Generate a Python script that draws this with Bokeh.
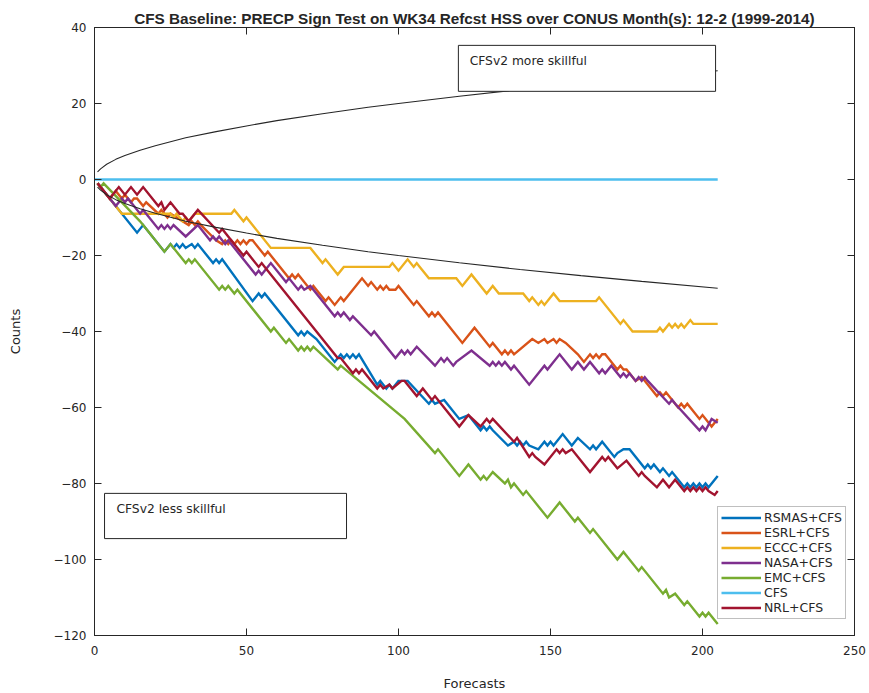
from bokeh.plotting import figure
from bokeh.models import (Range1d, LinearAxis, Legend, LegendItem, BoxAnnotation,
                          Label, FixedTicker, CustomJSTickFormatter)
from bokeh.embed import file_html
from bokeh.resources import INLINE

# ---------------- data ----------------
title_text = "CFS Baseline: PRECP Sign Test on WK34 Refcst HSS over CONUS Month(s): 12-2 (1999-2014)"
x_ticks = [0, 50, 100, 150, 200, 250]
y_ticks = [-120, -100, -80, -60, -40, -20, 0, 20, 40]

rsmas_x = [1, 14, 16, 23, 25, 26, 27, 28, 29, 30, 32, 33, 34, 39, 40, 41, 42, 52, 54, 55, 56, 67, 68, 69, 70, 73, 79,
           81, 82, 83, 84, 85, 86, 87, 93, 94, 95, 96, 97, 98, 99, 100, 103, 110, 111, 112, 115, 120, 123, 127, 128,
           129, 130, 131, 136, 138, 139, 140, 141, 142, 143, 146, 148, 149, 150, 151, 154, 157, 159, 163, 164, 165,
           167, 171, 172, 174, 176, 181, 182, 183, 184, 186, 187, 189, 190, 194, 195, 196, 197, 198, 199, 200, 201,
           202, 205]
rsmas_y = [-1, -14, -12, -19, -17, -18, -17, -18, -17, -18, -17, -18, -17, -22, -21, -22, -21, -32, -30, -31, -30, -41,
           -40, -41, -40, -42, -48, -46, -47, -46, -47, -46, -47, -46, -54, -53, -54, -55, -54, -55, -54, -53, -53,
           -59, -58, -59, -58, -63, -62, -66, -65, -66, -65, -66, -70, -69, -70, -69, -70, -69, -70, -71, -69, -70,
           -69, -70, -67, -70, -68, -71, -70, -71, -69, -73, -72, -71, -71, -76, -75, -76, -75, -77, -76, -78, -77,
           -81, -80, -81, -80, -81, -80, -81, -80, -81, -78]

esrl_x = [1, 5, 7, 9, 10, 12, 13, 14, 16, 17, 21, 22, 24, 25, 27, 31, 32, 33, 34, 35, 40, 42, 43, 44, 45, 46, 47, 48,
          49, 50, 51, 52, 56, 57, 58, 64, 65, 66, 67, 71, 72, 73, 76, 77, 79, 81, 82, 88, 90, 91, 93, 94, 95, 96, 97,
          99, 100, 101, 105, 106, 110, 111, 112, 113, 121, 125, 130, 131, 134, 135, 136, 137, 138, 144, 146, 148,
          149, 151, 152, 153, 155, 159, 161, 163, 164, 165, 166, 167, 168, 172, 173, 174, 175, 178, 180, 185, 186,
          187, 188, 192, 193, 194, 195, 199, 200, 203, 205]
esrl_y = [-1, -5, -3, -5, -4, -6, -5, -5, -7, -6, -9, -8, -10, -9, -10, -12, -11, -12, -11, -12, -16, -17, -16, -17,
          -16, -17, -16, -17, -16, -17, -16, -16, -20, -19, -20, -26, -25, -26, -25, -29, -28, -29, -32, -31, -33,
          -31, -32, -26, -28, -27, -29, -28, -29, -28, -29, -29, -28, -29, -33, -32, -36, -35, -36, -35, -43, -39,
          -44, -43, -46, -45, -46, -45, -46, -42, -43, -42, -43, -42, -43, -42, -43, -46, -48, -46, -47, -46, -47,
          -46, -46, -50, -49, -50, -50, -53, -52, -57, -56, -57, -56, -60, -59, -60, -59, -63, -62, -65, -63]

eccc_x = [1, 8, 9, 25, 26, 27, 29, 30, 31, 33, 34, 45, 46, 49, 50, 58, 71, 75, 76, 80, 82, 94, 97, 98, 100, 103, 105,
          106, 107, 110, 119, 121, 124, 129, 131, 133, 141, 143, 144, 146, 147, 148, 151, 153, 165, 166, 173, 174,
          177, 185, 186, 187, 189, 190, 191, 192, 193, 194, 196, 197, 205]
eccc_y = [-1, -8, -9, -9, -10, -9, -11, -10, -11, -9, -9, -9, -8, -11, -10, -18, -18, -22, -21, -25, -23, -23, -23,
          -22, -24, -21, -23, -22, -23, -26, -26, -28, -25, -30, -28, -30, -30, -32, -31, -33, -32, -33, -30, -32,
          -32, -31, -38, -37, -40, -40, -39, -40, -38, -39, -38, -39, -38, -39, -37, -38, -38]

nasa_x = [1, 7, 9, 10, 11, 15, 16, 21, 22, 23, 24, 25, 26, 30, 34, 38, 39, 40, 41, 43, 44, 48, 53, 54, 55, 58, 63,
          64, 67, 68, 69, 71, 79, 80, 81, 82, 84, 85, 91, 92, 99, 101, 102, 103, 104, 106, 112, 114, 115, 116, 118,
          119, 124, 130, 131, 132, 133, 134, 135, 137, 138, 143, 148, 149, 153, 157, 159, 161, 163, 166, 167, 168,
          170, 173, 174, 175, 176, 178, 179, 180, 181, 182, 189, 190, 191, 199, 200, 201, 203, 205]
nasa_y = [-1, -7, -5, -6, -5, -9, -8, -13, -12, -13, -12, -13, -12, -15, -12, -16, -15, -16, -15, -17, -16, -20, -25,
          -24, -25, -22, -27, -26, -29, -28, -29, -28, -36, -35, -36, -35, -37, -36, -41, -40, -47, -45, -46, -45,
          -46, -44, -49, -47, -48, -47, -49, -48, -45, -49, -48, -49, -48, -49, -48, -50, -49, -54, -49, -50, -46,
          -50, -48, -50, -48, -51, -50, -51, -49, -52, -51, -52, -51, -53, -52, -53, -52, -53, -59, -58, -59, -66,
          -65, -66, -63, -64]

emc_x = [1, 2, 3, 15, 16, 23, 25, 30, 31, 32, 33, 41, 42, 43, 44, 46, 47, 58, 59, 63, 64, 67, 68, 69, 70, 71, 72, 80,
         81, 102, 112, 113, 120, 123, 127, 128, 129, 131, 135, 136, 137, 138, 141, 142, 149, 153, 158, 159, 163,
         164, 172, 174, 179, 180, 187, 188, 189, 191, 194, 195, 199, 200, 201, 202, 205]
emc_y = [-1, -2, -1, -11, -12, -19, -17, -22, -21, -22, -21, -29, -28, -29, -28, -30, -29, -40, -39, -43, -42, -45,
         -44, -45, -44, -45, -44, -50, -49, -63, -72, -71, -78, -75, -79, -78, -79, -77, -80, -79, -81, -80, -83,
         -82, -89, -85, -90, -89, -93, -92, -100, -98, -103, -102, -109, -108, -110, -109, -112, -111, -115, -114,
         -115, -114, -117]

cfs_x = [0, 205]
cfs_y = [0, 0]

nrl_x = [1, 5, 8, 10, 12, 14, 16, 21, 22, 23, 25, 28, 29, 31, 34, 41, 42, 47, 49, 50, 54, 55, 56, 80, 81, 85, 86, 87,
         88, 93, 94, 95, 97, 98, 101, 102, 106, 108, 111, 112, 113, 120, 123, 127, 129, 130, 131, 138, 139, 143, 144,
         145, 148, 152, 153, 154, 155, 157, 163, 167, 168, 169, 172, 175, 179, 180, 181, 185, 187, 189, 191, 194,
         195, 196, 197, 198, 199, 200, 201, 202, 204, 205]
nrl_y = [-1, -5, -2, -4, -2, -4, -2, -7, -6, -8, -6, -9, -9, -11, -8, -14, -13, -18, -20, -19, -23, -22, -23, -47,
         -47, -51, -50, -51, -50, -55, -54, -55, -54, -55, -53, -53, -57, -55, -58, -57, -58, -65, -62, -65, -63,
         -64, -63, -69, -68, -73, -72, -73, -75, -71, -72, -71, -72, -71, -77, -73, -74, -73, -76, -74, -78, -77,
         -78, -81, -79, -81, -79, -82, -81, -82, -81, -82, -81, -82, -81, -82, -83, -82]

bound_x = [1, 2, 4, 7, 10, 15, 20, 30, 40, 50, 60, 75, 90, 100, 120, 140, 160, 180, 205]
bound_upper = [2.0, 2.8, 4.0, 5.3, 6.3, 7.7, 8.9, 11.0, 12.6, 14.1, 15.5, 17.3, 19.0, 20.0, 21.9, 23.7, 25.3, 26.8, 28.6]
bound_lower = [-2.0, -2.8, -4.0, -5.3, -6.3, -7.7, -8.9, -11.0, -12.6, -14.1, -15.5, -17.3, -19.0, -20.0, -21.9,
               -23.7, -25.3, -26.8, -28.6]

series = [
    ("RSMAS+CFS", rsmas_x, rsmas_y, "#0072BD"),
    ("ESRL+CFS", esrl_x, esrl_y, "#D95319"),
    ("ECCC+CFS", eccc_x, eccc_y, "#EDB120"),
    ("NASA+CFS", nasa_x, nasa_y, "#7E2F8E"),
    ("EMC+CFS", emc_x, emc_y, "#77AC30"),
    ("CFS", cfs_x, cfs_y, "#4DBEEE"),
    ("NRL+CFS", nrl_x, nrl_y, "#A2142F"),
]

# ---------------- figure ----------------
FONT = "DejaVu Sans"
INK = "#262626"

p = figure(width=869, height=693, output_backend="svg", toolbar_location=None,
           x_range=Range1d(0, 250), y_range=Range1d(-120, 40),
           min_border_left=94, min_border_right=15, min_border_top=27, min_border_bottom=56,
           x_axis_label="Forecasts", y_axis_label="Counts")
p.title.text = title_text
p.title.align = "center"
p.title.text_font = "Liberation Sans"
p.title.text_font_size = "15.3px"
p.title.text_font_style = "bold"
p.title.text_color = INK
p.title.standoff = 1
p.xgrid.visible = False
p.ygrid.visible = False
p.outline_line_color = INK
p.background_fill_color = "white"


def style_axis(ax, ticks, labels=True):
    ax.ticker = FixedTicker(ticks=ticks)
    ax.major_tick_in = 7
    ax.major_tick_out = 0
    ax.minor_tick_in = 0
    ax.minor_tick_out = 0
    ax.axis_line_color = INK
    ax.major_tick_line_color = INK
    ax.major_label_text_font = FONT
    ax.major_label_text_font_size = "12px"
    ax.major_label_text_color = INK
    ax.axis_label_text_font = FONT
    ax.axis_label_text_font_size = "13px"
    ax.axis_label_text_font_style = "normal"
    ax.axis_label_text_color = INK
    if not labels:
        ax.formatter = CustomJSTickFormatter(code="return ''")
        ax.major_label_text_font_size = "0px"
        ax.major_label_standoff = 0


style_axis(p.xaxis[0], x_ticks)
style_axis(p.yaxis[0], y_ticks)
p.xaxis[0].major_label_standoff = 10
p.xaxis[0].axis_label_standoff = 18
p.yaxis[0].major_label_standoff = 8
p.yaxis[0].axis_label_standoff = 28

top_ax = LinearAxis()
right_ax = LinearAxis()
style_axis(top_ax, x_ticks, labels=False)
style_axis(right_ax, y_ticks, labels=False)
p.add_layout(top_ax, "above")
p.add_layout(right_ax, "right")

renderers = []
for name, xs, ys, col in series:
    w = 2.7 if name == "CFS" else 2.4
    r = p.line(xs, ys, line_color=col, line_width=w, line_join="miter")
    renderers.append((name, r))

p.line(bound_x, bound_upper, line_color=INK, line_width=1.1)
p.line(bound_x, bound_lower, line_color=INK, line_width=1.1)

box_more = BoxAnnotation(left=119.7, right=204.3, bottom=23.2, top=35.3, fill_color="white", fill_alpha=1.0,
                         line_color=INK, line_width=1, line_alpha=1.0)
box_less = BoxAnnotation(left=3.3, right=82.9, bottom=-94.5, top=-82.6, fill_color="white", fill_alpha=1.0,
                         line_color=INK, line_width=1, line_alpha=1.0)
p.add_layout(box_more)
p.add_layout(box_less)
p.add_layout(Label(x=123.4, y=31.2, text="CFSv2 more skillful", text_baseline="middle",
                   text_font=FONT, text_font_size="12.3px", text_color=INK))
p.add_layout(Label(x=7.2, y=-86.6, text="CFSv2 less skillful", text_baseline="middle",
                   text_font=FONT, text_font_size="12.3px", text_color=INK))

legend = Legend(items=[LegendItem(label=n, renderers=[r]) for n, r in renderers],
                location=(623, 16))
legend.label_text_font = FONT
legend.label_text_font_size = "12.5px"
legend.label_text_color = INK
legend.glyph_width = 40
legend.glyph_height = 13
legend.label_height = 13
legend.spacing = 0
legend.padding = 3
legend.margin = 0
legend.label_standoff = 3
legend.border_line_color = "#808080"
legend.border_line_width = 1
legend.background_fill_color = "white"
legend.background_fill_alpha = 1.0
p.add_layout(legend)

open("out.html", "w").write(file_html(p, INLINE))
